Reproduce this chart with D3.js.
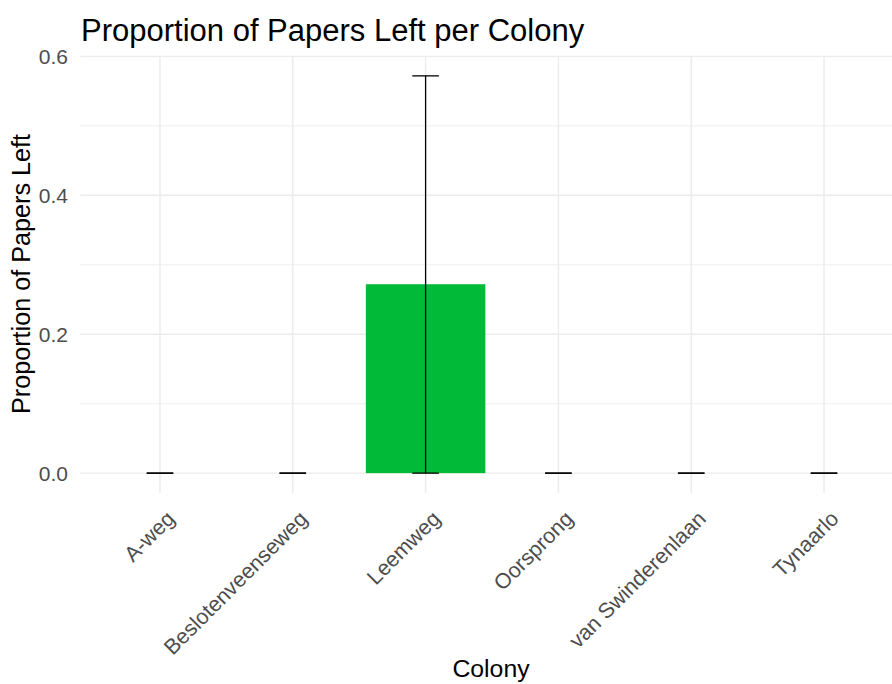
<!DOCTYPE html>
<html>
<head>
<meta charset="utf-8">
<script src="https://cdn.jsdelivr.net/npm/d3@7"></script>
<style>
  html, body { margin: 0; padding: 0; background: #fff; }
  svg text { font-family: "Liberation Sans", Arial, sans-serif; }
</style>
</head>
<body>
<svg id="chart" width="892" height="684"></svg>
<script>
// Colonies and the proportion of papers left in each
const colonies = ["A-weg", "Beslotenveenseweg", "Leemweg", "Oorsprong", "van Swinderenlaan", "Tynaarlo"];
const proportions = [0, 0, 0.272, 0, 0, 0];
const errLower = [0, 0, 0, 0, 0, 0];
const errUpper = [0, 0, 0.572, 0, 0, 0];
const majorTicks = [0, 0.2, 0.4, 0.6];
const minorTicks = [0.1, 0.3, 0.5];
const hueColours = ["#F8766D", "#B79F00", "#00BA38", "#00BFC4", "#619CFF", "#F564E3"];

const svg = d3.select("#chart");
const panel = { left: 80.3, right: 903.7, top: 56, bottom: 493 };

// Discrete axis with 0.6 step of padding on both sides
const x = d3.scalePoint()
  .domain(colonies)
  .range([panel.left, panel.right])
  .padding(0.6);
const step = x.step();

const yMax = d3.max(errUpper);
const yMin = Math.min(0, d3.min(errLower));
const pad = (yMax - yMin) * 0.05;
const y = d3.scaleLinear()
  .domain([yMin - pad, yMax + pad])
  .range([panel.bottom, panel.top]);

const colour = d3.scaleOrdinal().domain(colonies).range(hueColours);

// Grid
const grid = svg.append("g");
grid.selectAll("line.minor").data(minorTicks).join("line")
  .attr("x1", panel.left).attr("x2", panel.right)
  .attr("y1", d => y(d)).attr("y2", d => y(d))
  .attr("stroke", "#EBEBEB").attr("stroke-width", 0.8);
grid.selectAll("line.majorY").data(majorTicks).join("line")
  .attr("x1", panel.left).attr("x2", panel.right)
  .attr("y1", d => y(d)).attr("y2", d => y(d))
  .attr("stroke", "#EBEBEB").attr("stroke-width", 1.4);
grid.selectAll("line.majorX").data(colonies).join("line")
  .attr("x1", d => x(d)).attr("x2", d => x(d))
  .attr("y1", panel.top).attr("y2", panel.bottom)
  .attr("stroke", "#EBEBEB").attr("stroke-width", 1.4);

// Bars
const rows = colonies.map((c, i) => ({ c, v: proportions[i], lo: errLower[i], hi: errUpper[i] }));
svg.append("g").selectAll("rect").data(rows.filter(d => d.v > 0)).join("rect")
  .attr("x", d => x(d.c) - step * 0.45)
  .attr("width", step * 0.9)
  .attr("y", d => y(d.v))
  .attr("height", d => y(0) - y(d.v))
  .attr("fill", d => colour(d.c));

// Error bars
const eb = svg.append("g").attr("stroke", "#000").attr("stroke-width", 1.3).attr("fill", "none");
const capHalf = step * 0.1;
rows.forEach(d => {
  const cx = x(d.c);
  if (d.hi !== d.lo) {
    eb.append("line").attr("x1", cx).attr("x2", cx).attr("y1", y(d.lo)).attr("y2", y(d.hi));
  }
  eb.append("line").attr("x1", cx - capHalf).attr("x2", cx + capHalf).attr("y1", y(d.hi)).attr("y2", y(d.hi));
  eb.append("line").attr("x1", cx - capHalf).attr("x2", cx + capHalf).attr("y1", y(d.lo)).attr("y2", y(d.lo));
});

// Y axis labels
svg.append("g").selectAll("text").data(majorTicks).join("text")
  .attr("x", 68).attr("y", d => y(d))
  .attr("dy", "0.36em")
  .attr("text-anchor", "end")
  .attr("font-size", 21)
  .attr("fill", "#4D4D4D")
  .text(d => d3.format(".1f")(d));

// X axis labels, rotated 45 degrees
svg.append("g").selectAll("text").data(colonies).join("text")
  .attr("transform", d => `translate(${x(d) + 16},${520}) rotate(-45)`)
  .attr("text-anchor", "end")
  .attr("font-size", 21.5)
  .attr("fill", "#4D4D4D")
  .text(d => d);

// Axis titles
svg.append("text")
  .attr("x", 491).attr("y", 677)
  .attr("text-anchor", "middle")
  .attr("font-size", 24.8)
  .attr("fill", "#000")
  .text("Colony");

svg.append("text")
  .attr("transform", `translate(30,274) rotate(-90)`)
  .attr("text-anchor", "middle")
  .attr("font-size", 25.2)
  .attr("fill", "#000")
  .text("Proportion of Papers Left");

// Title
svg.append("text")
  .attr("x", 81).attr("y", 41)
  .attr("font-size", 31)
  .attr("fill", "#000")
  .text("Proportion of Papers Left per Colony");
</script>
</body>
</html>
